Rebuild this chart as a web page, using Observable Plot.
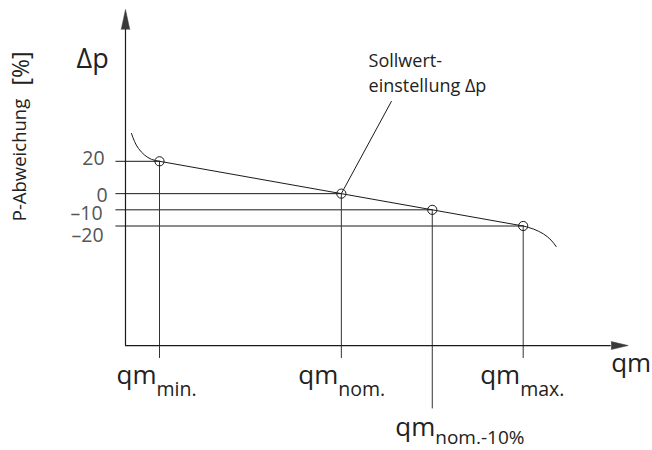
<!DOCTYPE html>
<html>
<head>
<meta charset="utf-8">
<script src="https://cdn.jsdelivr.net/npm/d3@7"></script>
<script src="https://cdn.jsdelivr.net/npm/@observablehq/plot@0.6"></script>
<style>
  html, body { margin: 0; padding: 0; background: #fff; }
  #chart svg { display: block; }
</style>
</head>
<body>
<div id="chart"></div>
<script>
// ---- data ----
const categories = ["min.", "nom.", "nom.-10%", "max."];   // qm subscripts
const flowPos    = [0, 2, 3, 4];                           // relative flow position on qm axis
const deviation  = [20, 0, -10, -20];                       // P-Abweichung [%]
const tickLabels = ["20", "0", "–10", "–20"];
const leftCurveX  = [-0.308, -0.275, -0.231, -0.165, -0.088, 0];
const leftCurveY  = [37.2, 32.3, 27.9, 23.9, 21.2, 20];
const rightCurveX = [4, 4.113, 4.223, 4.306, 4.363];
const rightCurveY = [-20, -21.9, -24.9, -28.7, -32.7];
const axisXStart = -0.374;   // qm value where Δp axis sits
const axisYStart = -93.9;    // Δp value where qm axis sits
const axisXEnd   = 4.968;
const axisYEnd   = 101.5;
const gridXStart = -0.479;
const dropShort  = -101.9;
const dropLong   = -133.1;
const leaderEnd  = {x: 2.552, y: 57.2};
const noteAt     = {x: 2.299, y: 62.7};

const points = categories.map((c, i) => ({cat: c, x: flowPos[i], dev: deviation[i]}));
const leftCurve = leftCurveX.map((x, i) => ({x, y: leftCurveY[i]}));
const rightCurve = rightCurveX.map((x, i) => ({x, y: rightCurveY[i]}));

const ink = "#1a1a1a";
const labelNudge = [-3, 2, 4, 10];
const labelShift = [0, 3, -2, -1];

const tickMarks = tickLabels.map((t, i) =>
  Plot.text([t], {x: -0.604, y: deviation[i], text: d => d, textAnchor: "end",
    lineAnchor: "middle", dx: labelShift[i], dy: labelNudge[i], fontSize: 19.5, fill: "#555"}));

const chart = Plot.plot({
  width: 652,
  height: 450,
  margin: 0,
  style: {fontFamily: "'Open Sans', sans-serif", background: "#fff", color: ink},
  x: {domain: [0, 4], range: [159, 522.7], axis: null},
  y: {domain: [-20, 20], range: [225.5, 160.8], axis: null},
  marks: [
    // horizontal guide lines to Δp axis
    Plot.ruleY(points, {y: "dev", x1: gridXStart, x2: "x", stroke: ink, strokeWidth: 1}),
    // vertical drop lines to qm axis
    Plot.ruleX(points, {x: "x", y1: "dev", y2: d => d.cat === "nom.-10%" ? dropLong : dropShort,
      stroke: "#333", strokeWidth: 1}),
    // axes
    Plot.ruleX([axisXStart], {y1: axisYStart, y2: axisYEnd, stroke: ink, strokeWidth: 1.2}),
    Plot.ruleY([axisYStart], {x1: axisXStart, x2: axisXEnd, stroke: ink, strokeWidth: 1.2}),
    Plot.vector([0], {x: axisXStart, y: axisYEnd, length: 20, r: 4.3, shape: "spike",
      anchor: "start", rotate: 0, fill: "#3a3a3a", stroke: "#3a3a3a", strokeWidth: 0.5}),
    Plot.vector([0], {x: axisXEnd, y: axisYStart, length: 17, r: 4, shape: "spike",
      anchor: "start", rotate: 90, fill: "#3a3a3a", stroke: "#3a3a3a", strokeWidth: 0.5}),
    // characteristic
    Plot.line(points, {x: "x", y: "dev", stroke: ink, strokeWidth: 1}),
    Plot.line(leftCurve, {x: "x", y: "y", curve: "natural", stroke: ink, strokeWidth: 1}),
    Plot.line(rightCurve, {x: "x", y: "y", curve: "natural", stroke: ink, strokeWidth: 1}),
    Plot.dot(points, {x: "x", y: "dev", r: 4.6, stroke: ink, strokeWidth: 1, fill: "none"}),
    // leader to annotation
    Plot.link([points[1]], {x1: "x", y1: "dev", x2: leaderEnd.x, y2: leaderEnd.y, stroke: ink, strokeWidth: 1}),
    Plot.text(["Sollwert-\neinstellung Δp"], {x: noteAt.x, y: noteAt.y, text: d => d, textAnchor: "start",
      lineAnchor: "bottom", lineHeight: 1.39, fontSize: 18, fill: "#222"}),
    // Δp axis title
    Plot.text(["Δp"], {x: axisXStart, y: axisYStart, text: d => d, textAnchor: "start", lineAnchor: "bottom",
      dx: -49, dy: -278, fontSize: 27, fill: "#222"}),
    Plot.text(["P-Abweichung"], {x: axisXStart, y: 20.8, text: d => d, rotate: -90, textAnchor: "middle",
      lineAnchor: "middle", dx: -105.5, fontSize: 18.5, fill: "#222"}),
    Plot.text(["[%]"], {x: axisXStart, y: 77.4, text: d => d, rotate: -90, textAnchor: "middle",
      lineAnchor: "middle", dx: -103.5, fontSize: 23, fill: "#222"}),
    ...tickMarks,
    // qm axis labels
    Plot.text(points, {x: "x", y: axisYStart, text: () => "qm", textAnchor: "end", lineAnchor: "bottom",
      fontSize: 26, fill: "#222", filter: d => d.cat !== "nom.-10%", dx: -3, dy: 38}),
    Plot.text(points, {x: "x", y: axisYStart, text: "cat", textAnchor: "start", lineAnchor: "bottom",
      fontSize: 19.5, fill: "#222", filter: d => d.cat !== "nom.-10%", dx: -3, dy: 50}),
    Plot.text(points, {x: "x", y: axisYStart, text: () => "qm", textAnchor: "end", lineAnchor: "bottom",
      fontSize: 26, fill: "#222", filter: d => d.cat === "nom.-10%", dx: 3, dy: 90}),
    Plot.text(points, {x: "x", y: axisYStart, text: "cat", textAnchor: "start", lineAnchor: "bottom",
      fontSize: 19, fill: "#222", filter: d => d.cat === "nom.-10%", dx: 3, dy: 98.5}),
    Plot.text(["qm"], {x: axisXEnd, y: axisYStart, text: d => d, textAnchor: "start", lineAnchor: "bottom",
      dy: 26, fontSize: 26, fill: "#222"})
  ]
});

document.getElementById("chart").appendChild(chart);
</script>
</body>
</html>
